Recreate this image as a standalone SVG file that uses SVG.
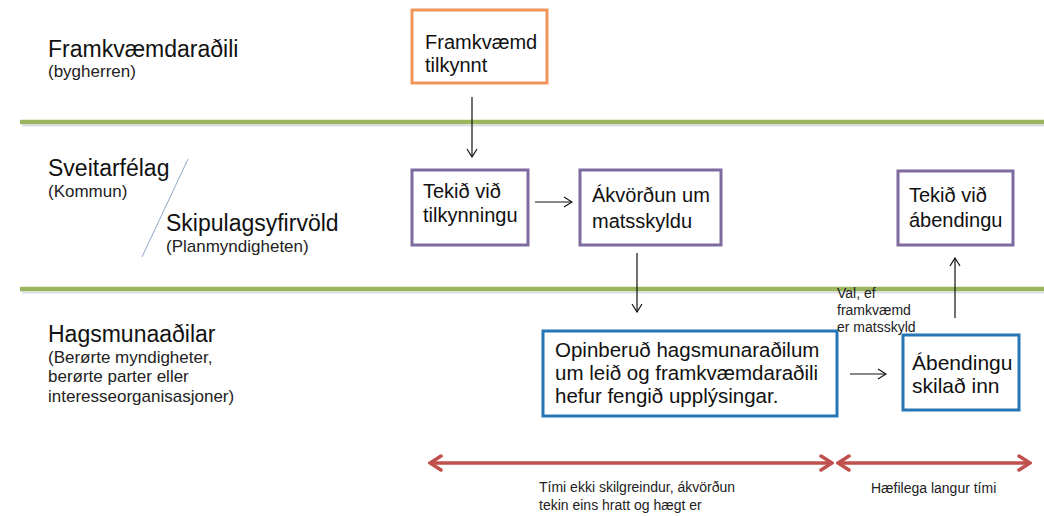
<svg xmlns="http://www.w3.org/2000/svg" width="1044" height="516" viewBox="0 0 1044 516">
<style>
text{font-family:"Liberation Sans",Arial,sans-serif;fill:#111}
.big{font-size:23px}
.sub{font-size:17px;fill:#222}
.box{font-size:20px}
.sm{font-size:14px;fill:#222}
.lane{stroke:#9BB55F;stroke-width:4.5;fill:none}
.shadow{stroke:#d9dfe8;stroke-width:2;fill:none}
.conn{stroke:#111;stroke-width:1.2;fill:none}
.time{stroke:#C0504D;stroke-width:3.5;fill:none}
</style>
<defs>
<marker id="ah" viewBox="0 0 12 12" refX="11" refY="6" markerWidth="12" markerHeight="12" markerUnits="userSpaceOnUse" orient="auto">
<path d="M3,1 L11,6 L3,11" fill="none" stroke="#111" stroke-width="1.2"/>
</marker>
<marker id="rh" viewBox="0 0 16 18" refX="14" refY="9" markerWidth="16" markerHeight="18" markerUnits="userSpaceOnUse" orient="auto-start-reverse">
<path d="M3,2 L14,9 L3,16" fill="none" stroke="#C0504D" stroke-width="3.5" stroke-linecap="round"/>
</marker>
</defs>

<g id="lanes">
<line class="shadow" x1="22" y1="125.5" x2="1044" y2="125.5"/>
<line class="lane" x1="20" y1="122" x2="1044" y2="122"/>
<line class="shadow" x1="22" y1="292.5" x2="1044" y2="292.5"/>
<line class="lane" x1="20" y1="289" x2="1044" y2="289"/>
</g>

<g id="lane-labels">
<text class="big" x="48" y="57">Framkvæmdaraðili</text>
<text class="sub" x="48" y="77">(bygherren)</text>
<text class="big" x="48" y="176">Sveitarfélag</text>
<text class="sub" x="48" y="197">(Kommun)</text>
<line x1="188" y1="159" x2="142" y2="257" stroke="#8FA8C6" stroke-width="1"/>
<text class="big" x="166" y="231">Skipulagsyfirvöld</text>
<text class="sub" x="166" y="252">(Planmyndigheten)</text>
<text class="big" x="48" y="342">Hagsmunaaðilar</text>
<text class="sub" x="48" y="363">(Berørte myndigheter,</text>
<text class="sub" x="48" y="382">berørte parter eller</text>
<text class="sub" x="48" y="402">interesseorganisasjoner)</text>
</g>

<g id="n-framkvaemd">
<rect x="412" y="10" width="135" height="73" fill="#fff" stroke="#F0965A" stroke-width="3"/>
<text class="box" x="425" y="49">Framkvæmd</text>
<text class="box" x="425" y="72">tilkynnt</text>
</g>

<g id="n-tekid1">
<rect x="412" y="170" width="116" height="75" fill="#fff" stroke="#7E6A9E" stroke-width="3"/>
<text class="box" x="423" y="198">Tekið við</text>
<text class="box" x="423" y="222">tilkynningu</text>
</g>

<g id="n-akvordun">
<rect x="580" y="170" width="141" height="75" fill="#fff" stroke="#7E6A9E" stroke-width="3"/>
<text class="box" x="592" y="202">Ákvörðun um</text>
<text class="box" x="592" y="228">matsskyldu</text>
</g>

<g id="n-tekid2">
<rect x="898" y="171" width="115" height="74" fill="#fff" stroke="#7E6A9E" stroke-width="3"/>
<text class="box" x="909" y="202">Tekið við</text>
<text class="box" x="909" y="227">ábendingu</text>
</g>

<g id="n-opinberud">
<rect x="543" y="331" width="294" height="85" fill="#fff" stroke="#2676B6" stroke-width="3"/>
<text class="box" style="font-size:20.5px" x="555" y="357">Opinberuð hagsmunaraðilum</text>
<text class="box" style="font-size:20.5px" x="555" y="380">um leið og framkvæmdaraðili</text>
<text class="box" style="font-size:20.5px" x="555" y="403">hefur fengið upplýsingar.</text>
</g>

<g id="n-abendingu">
<rect x="903" y="335" width="116" height="75" fill="#fff" stroke="#2676B6" stroke-width="3"/>
<text class="box" style="font-size:21px" x="912" y="370">Ábendingu</text>
<text class="box" style="font-size:21px" x="912" y="393">skilað inn</text>
</g>

<g id="connectors">
<line class="conn" x1="472" y1="97" x2="472" y2="157" marker-end="url(#ah)"/>
<line class="conn" x1="535" y1="202" x2="572" y2="202" marker-end="url(#ah)"/>
<line class="conn" x1="637" y1="253" x2="637" y2="312" marker-end="url(#ah)"/>
<line class="conn" x1="850" y1="374" x2="886" y2="374" marker-end="url(#ah)"/>
<line class="conn" x1="955" y1="318" x2="955" y2="258" marker-end="url(#ah)"/>
<text class="sm" x="837" y="298">Val, ef</text>
<text class="sm" x="837" y="315">framkvæmd</text>
<text class="sm" x="837" y="332">er matsskyld</text>
</g>

<g id="timeline">
<line class="time" x1="430" y1="463" x2="832" y2="463" marker-start="url(#rh)" marker-end="url(#rh)"/>
<line class="time" x1="838" y1="463" x2="1030" y2="463" marker-start="url(#rh)" marker-end="url(#rh)"/>
<text class="sm" x="539" y="492">Tími  ekki skilgreindur, ákvörðun</text>
<text class="sm" x="539" y="510">tekin eins hratt og hægt er</text>
<text class="sm" x="871" y="493">Hæfilega  langur tími</text>
</g>
</svg>
